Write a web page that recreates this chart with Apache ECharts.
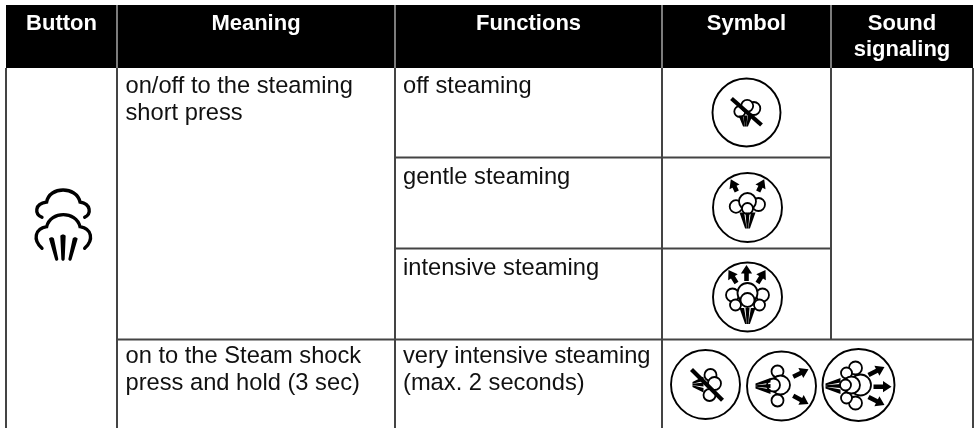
<!DOCTYPE html>
<html><head><meta charset="utf-8">
<style>html,body{margin:0;padding:0;background:#fff}#c{width:978px;height:428px}</style>
<script src="https://cdn.jsdelivr.net/npm/echarts@6/dist/echarts.min.js"></script>
</head><body><div id="c"></div>
<script>
const headers = [['Button'], ['Meaning'], ['Functions'], ['Symbol'], ['Sound', 'signaling']];
const meanings = [['on/off to the steaming', 'short press'], ['on to the Steam shock', 'press and hold (3 sec)']];
const functionsText = [['off steaming'], ['gentle steaming'], ['intensive steaming'], ['very intensive steaming', '(max. 2 seconds)']];

const colX = [6, 117, 395, 662, 831, 973];
const rowY = [5, 68, 157.5, 248.5, 339.5, 428];
const FONT = '"Liberation Sans", Arial, sans-serif';
const INK = '#111';

function line(x1, y1, x2, y2, stroke, w) {
  return {type: 'line', shape: {x1, y1, x2, y2}, style: {stroke, lineWidth: w, fill: null, lineCap: 'butt'}};
}
function label(t, x, baseline, size, weight, fill, align) {
  return {type: 'text', x, y: baseline - size * 0.345, style: {text: t, font: weight + ' ' + size + 'px ' + FONT, fill, align, verticalAlign: 'middle'}};
}
function circle(cx, cy, r, w) {
  return {type: 'circle', shape: {cx, cy, r}, style: {fill: '#fff', stroke: '#000', lineWidth: w}};
}
function arrow(x0, y0, x1, y1) {
  const L = Math.hypot(x1 - x0, y1 - y0), dx = (x1 - x0) / L, dy = (y1 - y0) / L, nx = -dy, ny = dx;
  const h = 8.5, sw = 2.3, hw = 5.6;
  const P = (b, a) => [x0 + dx * b + nx * a, y0 + dy * b + ny * a];
  return {type: 'polygon', shape: {points: [P(0, -sw), P(L - h, -sw), P(L - h, -hw), P(L, 0), P(L - h, hw), P(L - h, sw), P(0, sw)]}, style: {fill: '#000'}};
}
function nozzle(bx, by, tx, ty, hw) {
  const L = Math.hypot(tx - bx, ty - by), dx = (tx - bx) / L, dy = (ty - by) / L, nx = -dy, ny = dx;
  const P = (b, a) => [bx + dx * b + nx * a, by + dy * b + ny * a];
  const bar = (a0, a1, t0, t1) => ({type: 'polygon', shape: {points: [P(0, a0), P(0, a1), P(L, t1), P(L, t0)]}, style: {fill: '#000'}});
  return [bar(-hw, -hw + 4.6, -2.4, -0.8), bar(-2, 2, -0.8, 0.8), bar(hw - 4.6, hw, 0.8, 2.4)];
}
function icon(cx, cy, r, parts) {
  const kids = [circle(0, 0, r, 1.9)];
  parts.lobes.forEach(l => kids.push(circle(l[0], l[1], l[2], 1.8)));
  if (parts.noz) kids.push(...nozzle(...parts.noz));
  (parts.arrows || []).forEach(a => kids.push(arrow(...a)));
  if (parts.slash) {
    const s = parts.slash;
    kids.push(line(s[0], s[1], s[2], s[3], '#000', 4.2));
  }
  return {type: 'group', x: cx, y: cy, children: kids};
}
function buttonIcon() {
  const st = {fill: null, stroke: '#000', lineWidth: 10, lineCap: 'round'};
  const upper = 'M36 112 C14 102 12 72 50 66 C58 18 140 18 150 66 C184 72 184 102 164 112';
  const lower = 'M36 205 C8 180 14 146 50 140 C62 92 138 92 150 140 C186 146 192 180 164 205';
  const barsD = 'M57 176 C60 170 70 170 72 176 L85 238 C82 244 77 244 75 238 Z M91 168 C93 162 105 162 107 168 L104 238 C102 244 96 244 94 238 Z M128 176 C130 170 140 170 143 176 L125 238 C123 244 118 244 115 238 Z';
  return {type: 'group', x: 30, y: 180, scaleX: 1 / 3, scaleY: 1 / 3, children: [
    {type: 'path', shape: {pathData: upper}, style: st},
    {type: 'path', shape: {pathData: lower}, style: st},
    {type: 'path', shape: {pathData: barsD}, style: {fill: '#000'}}
  ]};
}

function renderAll() {
  const k = [];
  const SEP = '#cfcfcf', RULE = '#444';
  k.push({type: 'rect', shape: {x: colX[0], y: rowY[0], width: colX[5] - colX[0], height: rowY[1] - rowY[0]}, style: {fill: '#000'}});
  colX.slice(1, 5).forEach(x => k.push(line(x, rowY[0], x, rowY[1], SEP, 1.2)));
  [0, 1, 2, 3, 5].forEach(i => k.push(line(colX[i], rowY[1], colX[i], rowY[5], RULE, 2)));
  k.push(line(colX[4], rowY[1], colX[4], rowY[4], RULE, 2));
  k.push(line(colX[2], rowY[2], colX[4], rowY[2], RULE, 2));
  k.push(line(colX[2], rowY[3], colX[4], rowY[3], RULE, 2));
  k.push(line(colX[1], rowY[4], colX[5], rowY[4], RULE, 2));

  const HS = 22, HLH = 26, BS = 23.7, LH = 27;
  headers.forEach((h, i) => {
    const cx = (colX[i] + colX[i + 1]) / 2;
    h.forEach((t, j) => k.push(label(t, cx, 32 + j * HLH, HS, 'bold', '#fff', 'center')));
  });
  const tx1 = colX[1] + 8.5, tx2 = colX[2] + 8;
  meanings[0].forEach((t, j) => k.push(label(t, tx1, 95 + j * LH, BS, 'normal', INK, 'left')));
  meanings[1].forEach((t, j) => k.push(label(t, tx1, 365 + j * LH, BS, 'normal', INK, 'left')));
  const fy = [95, 186, 277, 365];
  functionsText.forEach((f, i) => f.forEach((t, j) => k.push(label(t, tx2, fy[i] + j * LH, BS, 'normal', INK, 'left'))));

  k.push(buttonIcon());
  k.push(icon(746.5, 112.5, 34, {lobes: [[-6.7, -1, 5.5], [7.3, -4, 6.5], [0.7, -6.7, 6]], noz: [-1, 3, -1, 14, 7], slash: [-15, -14, 15, 12.5]}));
  k.push(icon(747.5, 207.5, 34.5, {lobes: [[-11.5, -1, 6.3], [11, -3, 6.5], [0, -6, 8.5], [0, 1, 5.5]], noz: [0, 5, 0, 21, 8],
    arrows: [[-10.7, -16, -16.7, -28.3], [10.7, -16, 16.7, -28.3]]}));
  k.push(icon(747.5, 297, 34.5, {lobes: [[-15, -2, 6.5], [15, -2, 6.5], [-12, 8, 5.5], [12, 8, 5.5], [0, -4, 10], [0, 3, 7]], noz: [0, 11, 0, 27, 8],
    arrows: [[-11, -14, -19, -27], [10, -14, 18, -27], [-1, -16, -1, -32]]}));
  k.push(icon(705.5, 384.5, 34.5, {lobes: [[5, -9.5, 6], [4, 10.5, 6], [9, -1, 6.5]], noz: [-2, 0, -13, 0, 8], slash: [-14, -15, 17, 15.7]}));
  k.push(icon(781.5, 386, 34.5, {lobes: [[-4, -14.5, 6], [-4, 14.5, 6], [-1, -1, 9.5], [-8, -1, 6.5]], noz: [-11, 0, -26, 0, 8],
    arrows: [[11.7, -9.3, 27, -16.7], [11.7, 9.7, 27, 18]]}));
  k.push(icon(858.5, 385, 36, {lobes: [[-3, -17, 6.5], [-3, 18, 6.5], [-12, -12, 5.5], [-12, 13, 5.5], [2, 0, 10.5], [-7, 0, 8.5], [-13, 0, 5.5]], noz: [-18, 1, -33, 1, 8],
    arrows: [[10, -10, 26, -18], [15, 1.7, 33, 1.7], [10, 12, 26, 20]]}));
  return {type: 'group', children: k};
}

const chart = echarts.init(document.getElementById('c'), null, {renderer: 'canvas'});
chart.setOption({
  animation: false,
  backgroundColor: '#fff',
  grid: {left: 0, right: 0, top: 0, bottom: 0},
  xAxis: {type: 'value', min: 0, max: 978, show: false},
  yAxis: {type: 'value', min: 0, max: 428, inverse: true, show: false},
  series: [{type: 'custom', coordinateSystem: 'cartesian2d', silent: true, clip: false, data: [[0, 0]], renderItem: renderAll}]
});
</script></body></html>
